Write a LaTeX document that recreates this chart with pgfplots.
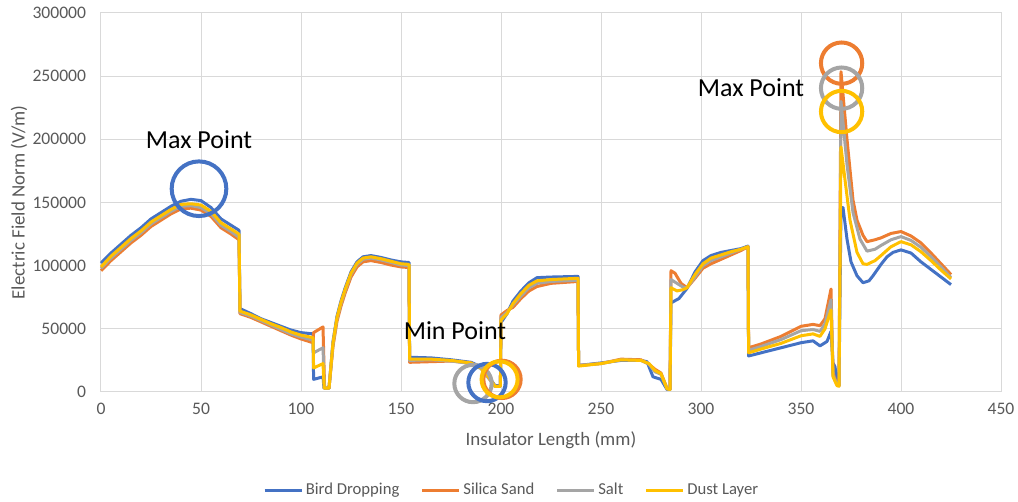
\documentclass[border=0pt]{standalone}
\usepackage{pgfplots}
\pgfplotsset{compat=1.18}
\usepackage{fontspec}
\setmainfont{Carlito}
\definecolor{cBlue}{HTML}{4472C4}
\definecolor{cOrange}{HTML}{ED7D31}
\definecolor{cGrey}{HTML}{A5A5A5}
\definecolor{cYellow}{HTML}{FFC000}
\definecolor{cText}{HTML}{595959}
\definecolor{cGrid}{HTML}{D9D9D9}
\begin{document}
\begin{tikzpicture}
\useasboundingbox (0,0) rectangle (763.5pt,376.5pt);
\begin{axis}[
  at={(75.75pt,82.5pt)}, anchor=south west,
  scale only axis, width=675pt, height=284.25pt,
  xmin=0, xmax=450, ymin=0, ymax=300000,
  xtick={0,50,...,450}, ytick={0,50000,...,300000},
  scaled y ticks=false,
  /pgf/number format/.cd, fixed, 1000 sep={}, assume math mode=true, /pgfplots/.cd,
  grid=major, major grid style={draw=cGrid, line width=0.75pt},
  axis line style={draw=cGrid, line width=0.75pt},
  major tick length=0pt,
  tick label style={font=\fontsize{13.2}{15}\selectfont, text=cText, inner sep=0pt},
  yticklabel style={xshift=-11pt},
  xticklabel style={yshift=-8pt},
  xlabel={Insulator Length (mm)},
  ylabel={Electric Field Norm (V/m)},
  label style={font=\fontsize{14.2}{16}\selectfont, text=cText},
  xlabel style={at={(axis description cs:0.5,-0.1266)}, anchor=center},
  ylabel style={at={(axis description cs:-0.0911,0.5)}, anchor=center, rotate=0},
  legend style={at={(axis description cs:0.4567,-0.2586)}, anchor=center, draw=none,
    font=\fontsize{12.5}{15}\selectfont, text=cText, legend columns=4,
    /tikz/every even column/.append style={column sep=14pt},
    nodes={inner sep=2pt}},
  legend image code/.code={\draw[#1, line width=2.25pt] (0pt,0pt) -- (27.75pt,0pt);},
  every axis plot/.append style={line width=2.25pt, line join=round, mark=none},
  clip=false,
]
\addplot[cBlue] coordinates {
(0,102000)(5,110000)(10,117000)(15,124000)(20,130000)(25,137000)(30,142000)(35,147000)(40,151000)(45,152500)(50,151500)(55,146000)(60,137000)(65,132000)(69,128000)(69.5,66000)(75,62000)(80,58000)(85,55000)(90,52000)(95,49000)(100,47000)(106,46000)(106.3,10000)(111,12000)(111.5,3000)(114,3000)(116,40000)(118,60000)(120,72000)(122,82000)(125,95000)(128,103000)(131,107000)(135,108000)(140,106500)(145,104500)(150,103000)(154,102500)(154.3,27500)(165,27000)(175,25500)(185,23500)(190,20000)(194,12000)(197,5000)(199.7,5000)(200,55000)(203,62000)(206,72000)(210,80000)(214,86500)(218,90500)(225,91000)(238.5,91500)(238.8,21000)(250,23000)(260,25000)(270,25000)(273,24000)(276,12000)(280,10000)(283,2000)(284.5,2000)(285,70500)(289,74000)(293,82000)(297,95000)(301,104000)(305,108000)(310,110500)(315,112000)(320,113500)(323.5,115500)(323.8,28500)(330,31000)(340,35000)(350,39000)(356,40500)(359.5,36500)(363,40000)(365,48000)(366,23000)(367,20000)(368,8000)(369,5000)(370,146000)(371,146000)(373,121000)(375,103000)(378,92000)(381,86500)(384,88000)(386,92000)(390,101000)(393,107000)(396,110500)(400,112500)(405,110000)(410,103000)(415,97000)(420,91000)(425,85000)
};
\addlegendentry{Bird Dropping}
\addplot[cOrange] coordinates {
(0,96000)(5,104000)(10,111000)(15,118000)(20,124000)(25,131000)(30,136000)(35,141000)(40,145000)(45,145500)(50,144000)(55,139000)(60,130000)(65,125000)(69,120500)(69.5,62000)(75,59000)(80,55500)(85,52000)(90,48500)(95,45000)(100,42000)(106,39000)(106.3,47000)(111,51500)(111.8,3000)(114,3000)(116,36000)(118,56000)(120,68000)(122,78000)(125,91000)(128,99000)(131,103000)(135,104000)(140,102500)(145,100500)(150,99000)(154,98500)(154.3,23500)(165,24000)(175,24500)(185,23000)(190,19000)(194,11000)(197,4500)(199.7,4500)(200,61000)(203,64500)(206,67000)(210,74000)(214,80000)(218,83500)(225,86000)(238.5,87500)(238.8,21000)(250,22500)(260,26000)(270,25500)(274,22000)(277,18000)(280,15000)(283,3000)(284.5,2000)(285,96000)(287,94000)(290,86000)(293,82500)(297,90000)(301,98000)(305,101500)(310,105000)(315,108500)(320,112000)(323.5,115000)(323.8,35000)(330,38000)(340,44000)(345,48000)(350,52000)(356,53500)(359.5,52500)(362,58000)(365,81500)(366,15000)(368,6000)(369,5000)(370,253500)(373,200000)(376,152000)(378,136000)(381,124000)(383,119000)(387,120500)(390,122000)(395,125500)(400,127000)(405,123500)(410,118000)(415,110000)(420,101500)(425,93000)
};
\addlegendentry{Silica Sand}
\addplot[cGrey] coordinates {
(0,98000)(5,106000)(10,113000)(15,120000)(20,126000)(25,133000)(30,138000)(35,143000)(40,147000)(45,147500)(50,146000)(55,141000)(60,132000)(65,127000)(69,122500)(69.5,63000)(75,60000)(80,56500)(85,53000)(90,49500)(95,46000)(100,43500)(106,41000)(106.3,31000)(111,35000)(111.7,3000)(114,3000)(116,38000)(118,58000)(120,70000)(122,80000)(125,93000)(128,101000)(131,105000)(135,106000)(140,104500)(145,102500)(150,100500)(154,100000)(154.3,25000)(165,25500)(175,24500)(185,22500)(190,18500)(194,10500)(197,4500)(199.7,4500)(200,59000)(203,63000)(206,69000)(210,76000)(214,82500)(218,86000)(225,87500)(238.5,88500)(238.8,21000)(250,22500)(260,25500)(270,25000)(274,22000)(277,16000)(280,14000)(283,2500)(284.5,2000)(285,89000)(288,86000)(291,83000)(293,82500)(297,91000)(301,100000)(305,104000)(310,107000)(315,110000)(320,113000)(323.5,115000)(323.8,33000)(330,36000)(340,41500)(345,45000)(350,48500)(356,49500)(359.5,48000)(362,54000)(365,73000)(366,13000)(368,6000)(369,5000)(370,230000)(373,180000)(376,142000)(379.5,121000)(383,111500)(387,113000)(390,116000)(395,120500)(400,123000)(405,120000)(410,114500)(415,107000)(420,99000)(425,90500)
};
\addlegendentry{Salt}
\addplot[cYellow] coordinates {
(0,99000)(5,107500)(10,114500)(15,121500)(20,127500)(25,134500)(30,139500)(35,144500)(40,148500)(45,149000)(50,148000)(55,143000)(60,134000)(65,129000)(69,125000)(69.5,64000)(75,61000)(80,57500)(85,54000)(90,51000)(95,47500)(100,45000)(106,43000)(106.3,19000)(111,22500)(111.6,3000)(114,3000)(116,39000)(118,59000)(120,71000)(122,81000)(125,94000)(128,102000)(131,106000)(135,107000)(140,105500)(145,103500)(150,101500)(154,101000)(154.3,26000)(165,26000)(175,25000)(185,23000)(190,19000)(194,11500)(197,4500)(199.7,4500)(200,57000)(203,62000)(206,70000)(210,78000)(214,84500)(218,88000)(225,89000)(238.5,90000)(238.8,20500)(250,22500)(260,25500)(270,25000)(274,22500)(277,17000)(280,14500)(283,2500)(284.5,2000)(285,82500)(288,80000)(291,81000)(293,82500)(297,93000)(301,101500)(305,106000)(310,108500)(315,111000)(320,113000)(323.5,115000)(323.8,31000)(330,34000)(340,38500)(345,41500)(350,44500)(356,46000)(359.5,44000)(362,50000)(365,65000)(366,12000)(368,5000)(369,4500)(370,194000)(372,168000)(374.5,136000)(378,110500)(381,101500)(383,101000)(387,104000)(390,108000)(395,115000)(400,119000)(405,116500)(410,111000)(415,104000)(420,96500)(425,89500)
};
\addlegendentry{Dust Layer}
% annotations
\node[font=\fontsize{19.5}{22}\selectfont, text=black] at (axis cs:49,199700) {Max Point};
\node[font=\fontsize{19.5}{22}\selectfont, text=black] at (axis cs:177,48600) {Min Point};
\node[font=\fontsize{19.5}{22}\selectfont, text=black] at (axis cs:325,240800) {Max Point};
\draw[cBlue, line width=3pt] (axis cs:49,160900) circle[radius=20.5pt];
\draw[cGrey, line width=3pt] (axis cs:186,6700) circle[radius=14pt];
\draw[cBlue, line width=3pt] (axis cs:193,7500) circle[radius=14pt];
\draw[cOrange, line width=3pt] (axis cs:200.5,10000) circle[radius=14pt];
\draw[cYellow, line width=3pt] (axis cs:199.3,10000) circle[radius=13.5pt];
\draw[cOrange, line width=3pt] (axis cs:370.3,260300) circle[radius=15.5pt];
\draw[cGrey, line width=3pt] (axis cs:370.3,240500) circle[radius=15.5pt];
\draw[cYellow, line width=3pt] (axis cs:370.3,222000) circle[radius=15.5pt];
\end{axis}
\end{tikzpicture}
\end{document}
